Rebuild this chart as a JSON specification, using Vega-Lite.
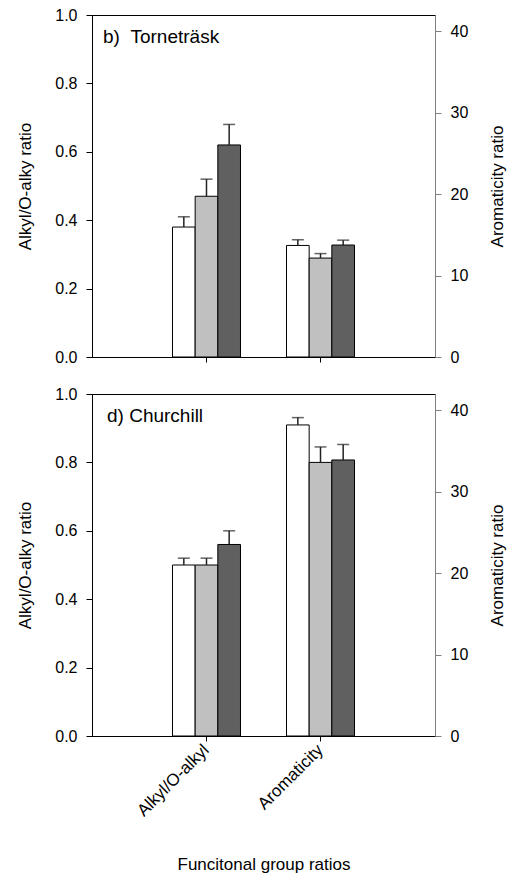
{
  "$schema": "https://vega.github.io/schema/vega-lite/v6.json",
  "autosize": {"type": "pad"},
  "padding": {"left": 16, "top": 6, "right": 5, "bottom": 5},
  "background": "white",
  "bounds": "flush",
  "spacing": 37,
  "config": {
    "font": "Liberation Sans",
    "view": {"stroke": "black", "strokeWidth": 1},
    "axis": {"grid": false, "labelColor": "black", "titleColor": "black", "titleFontWeight": "normal", "labelFont": "Liberation Sans", "titleFont": "Liberation Sans"}
  },
  "data": {
    "values": [
      {"site": "Torneträsk", "ratio": "Alkyl/O-alkyl", "trt": "A", "value": 0.38, "upper": 0.41},
      {"site": "Torneträsk", "ratio": "Alkyl/O-alkyl", "trt": "B", "value": 0.47, "upper": 0.52},
      {"site": "Torneträsk", "ratio": "Alkyl/O-alkyl", "trt": "C", "value": 0.62, "upper": 0.68},
      {"site": "Torneträsk", "ratio": "Aromaticity", "trt": "A", "value": 13.7, "upper": 14.4},
      {"site": "Torneträsk", "ratio": "Aromaticity", "trt": "B", "value": 12.15, "upper": 12.7},
      {"site": "Torneträsk", "ratio": "Aromaticity", "trt": "C", "value": 13.75, "upper": 14.35},
      {"site": "Churchill", "ratio": "Alkyl/O-alkyl", "trt": "A", "value": 0.50, "upper": 0.52},
      {"site": "Churchill", "ratio": "Alkyl/O-alkyl", "trt": "B", "value": 0.50, "upper": 0.52},
      {"site": "Churchill", "ratio": "Alkyl/O-alkyl", "trt": "C", "value": 0.56, "upper": 0.60},
      {"site": "Churchill", "ratio": "Aromaticity", "trt": "A", "value": 38.2, "upper": 39.1},
      {"site": "Churchill", "ratio": "Aromaticity", "trt": "B", "value": 33.6, "upper": 35.5},
      {"site": "Churchill", "ratio": "Aromaticity", "trt": "C", "value": 33.9, "upper": 35.8}
    ]
  },
  "vconcat": [
    {
      "width": 343, "height": 342,
      "title": {"text": "b)\u00a0\u00a0Torneträsk", "anchor": "start", "frame": "group", "orient": "top", "offset": -18, "dy": 22, "dx": 11, "fontSize": 19, "fontWeight": "normal", "font": "Liberation Sans", "color": "black"},
      "transform": [{"filter": "datum.site === 'Torneträsk'"}],
      "encoding": {
        "x": {"field": "ratio", "type": "nominal", "sort": ["Alkyl/O-alkyl", "Aromaticity"], "scale": {"paddingInner": 0.4035, "paddingOuter": 0.706},
              "axis": {"title": null, "labels": false, "tickSize": 5, "tickColor": "black", "domainColor": "black", "domain": true}},
        "xOffset": {"field": "trt", "type": "nominal", "sort": ["A", "B", "C"], "scale": {"paddingInner": 0, "paddingOuter": 0}}
      },
      "layer": [
        {
          "transform": [{"filter": "datum.ratio === 'Alkyl/O-alkyl'"}],
          "layer": [
            {"mark": {"type": "bar", "stroke": "black", "strokeWidth": 1},
             "encoding": {
               "y": {"field": "value", "type": "quantitative", "scale": {"domain": [0, 1], "nice": false}, "axis": {"orient": "left", "title": "Alkyl/O-alky ratio", "values": [0, 0.2, 0.4, 0.6, 0.8, 1.0], "format": ".1f", "tickSize": 6, "labelFontSize": 16, "labelPadding": 9, "titleFontSize": 17, "titlePadding": 20, "domainColor": "black", "tickColor": "black"}},
               "fill": {"field": "trt", "type": "nominal", "scale": {"domain": ["A", "B", "C"], "range": ["#ffffff", "#c0c0c0", "#606060"]}, "legend": null}
             }},
            {"mark": {"type": "rule", "color": "#222222", "strokeWidth": 1.5},
             "encoding": {
               "y": {"field": "value", "type": "quantitative", "scale": {"domain": [0, 1], "nice": false}, "axis": {"orient": "left", "title": "Alkyl/O-alky ratio", "values": [0, 0.2, 0.4, 0.6, 0.8, 1.0], "format": ".1f", "tickSize": 6, "labelFontSize": 16, "labelPadding": 9, "titleFontSize": 17, "titlePadding": 20, "domainColor": "black", "tickColor": "black"}},
               "y2": {"field": "upper"}
             }},
            {"mark": {"type": "tick", "color": "#222222", "size": 12, "thickness": 1.5, "orient": "horizontal"},
             "encoding": {
               "y": {"field": "upper", "type": "quantitative", "scale": {"domain": [0, 1], "nice": false}, "axis": {"orient": "left", "title": "Alkyl/O-alky ratio", "values": [0, 0.2, 0.4, 0.6, 0.8, 1.0], "format": ".1f", "tickSize": 6, "labelFontSize": 16, "labelPadding": 9, "titleFontSize": 17, "titlePadding": 20, "domainColor": "black", "tickColor": "black"}}
             }}
          ]
        },
        {
          "transform": [{"filter": "datum.ratio === 'Aromaticity'"}],
          "layer": [
            {"mark": {"type": "bar", "stroke": "black", "strokeWidth": 1},
             "encoding": {
               "y": {"field": "value", "type": "quantitative", "scale": {"domain": [0, 42], "nice": false}, "axis": {"orient": "right", "title": "Aromaticity ratio", "titleAngle": 270, "values": [0, 10, 20, 30, 40], "tickSize": 6, "labelFontSize": 16, "labelPadding": 9, "titleFontSize": 17, "titlePadding": 39, "domainColor": "#808080", "tickColor": "#808080"}},
               "fill": {"field": "trt", "type": "nominal", "scale": {"domain": ["A", "B", "C"], "range": ["#ffffff", "#c0c0c0", "#606060"]}, "legend": null}
             }},
            {"mark": {"type": "rule", "color": "#222222", "strokeWidth": 1.5},
             "encoding": {
               "y": {"field": "value", "type": "quantitative", "scale": {"domain": [0, 42], "nice": false}, "axis": {"orient": "right", "title": "Aromaticity ratio", "titleAngle": 270, "values": [0, 10, 20, 30, 40], "tickSize": 6, "labelFontSize": 16, "labelPadding": 9, "titleFontSize": 17, "titlePadding": 39, "domainColor": "#808080", "tickColor": "#808080"}},
               "y2": {"field": "upper"}
             }},
            {"mark": {"type": "tick", "color": "#222222", "size": 12, "thickness": 1.5, "orient": "horizontal"},
             "encoding": {
               "y": {"field": "upper", "type": "quantitative", "scale": {"domain": [0, 42], "nice": false}, "axis": {"orient": "right", "title": "Aromaticity ratio", "titleAngle": 270, "values": [0, 10, 20, 30, 40], "tickSize": 6, "labelFontSize": 16, "labelPadding": 9, "titleFontSize": 17, "titlePadding": 39, "domainColor": "#808080", "tickColor": "#808080"}}
             }}
          ]
        }
      ],
      "resolve": {"scale": {"y": "independent"}, "axis": {"y": "independent"}}
    },
    {
      "width": 343, "height": 342,
      "title": {"text": "d) Churchill", "anchor": "start", "frame": "group", "orient": "top", "offset": -18, "dy": 22, "dx": 15, "fontSize": 19, "fontWeight": "normal", "font": "Liberation Sans", "color": "black"},
      "transform": [{"filter": "datum.site === 'Churchill'"}],
      "encoding": {
        "x": {"field": "ratio", "type": "nominal", "sort": ["Alkyl/O-alkyl", "Aromaticity"], "scale": {"paddingInner": 0.4035, "paddingOuter": 0.706},
              "axis": {"title": "Funcitonal group ratios", "titleFontSize": 17, "titlePadding": 38, "labelAngle": -45, "labelAlign": "right", "labelBaseline": "middle", "labelFontSize": 17, "labelPadding": 6, "tickSize": 5, "tickColor": "black", "domainColor": "black"}},
        "xOffset": {"field": "trt", "type": "nominal", "sort": ["A", "B", "C"], "scale": {"paddingInner": 0, "paddingOuter": 0}}
      },
      "layer": [
        {
          "transform": [{"filter": "datum.ratio === 'Alkyl/O-alkyl'"}],
          "layer": [
            {"mark": {"type": "bar", "stroke": "black", "strokeWidth": 1},
             "encoding": {
               "y": {"field": "value", "type": "quantitative", "scale": {"domain": [0, 1], "nice": false}, "axis": {"orient": "left", "title": "Alkyl/O-alky ratio", "values": [0, 0.2, 0.4, 0.6, 0.8, 1.0], "format": ".1f", "tickSize": 6, "labelFontSize": 16, "labelPadding": 9, "titleFontSize": 17, "titlePadding": 20, "domainColor": "black", "tickColor": "black"}},
               "fill": {"field": "trt", "type": "nominal", "scale": {"domain": ["A", "B", "C"], "range": ["#ffffff", "#c0c0c0", "#606060"]}, "legend": null}
             }},
            {"mark": {"type": "rule", "color": "#222222", "strokeWidth": 1.5},
             "encoding": {
               "y": {"field": "value", "type": "quantitative", "scale": {"domain": [0, 1], "nice": false}, "axis": {"orient": "left", "title": "Alkyl/O-alky ratio", "values": [0, 0.2, 0.4, 0.6, 0.8, 1.0], "format": ".1f", "tickSize": 6, "labelFontSize": 16, "labelPadding": 9, "titleFontSize": 17, "titlePadding": 20, "domainColor": "black", "tickColor": "black"}},
               "y2": {"field": "upper"}
             }},
            {"mark": {"type": "tick", "color": "#222222", "size": 12, "thickness": 1.5, "orient": "horizontal"},
             "encoding": {
               "y": {"field": "upper", "type": "quantitative", "scale": {"domain": [0, 1], "nice": false}, "axis": {"orient": "left", "title": "Alkyl/O-alky ratio", "values": [0, 0.2, 0.4, 0.6, 0.8, 1.0], "format": ".1f", "tickSize": 6, "labelFontSize": 16, "labelPadding": 9, "titleFontSize": 17, "titlePadding": 20, "domainColor": "black", "tickColor": "black"}}
             }}
          ]
        },
        {
          "transform": [{"filter": "datum.ratio === 'Aromaticity'"}],
          "layer": [
            {"mark": {"type": "bar", "stroke": "black", "strokeWidth": 1},
             "encoding": {
               "y": {"field": "value", "type": "quantitative", "scale": {"domain": [0, 42], "nice": false}, "axis": {"orient": "right", "title": "Aromaticity ratio", "titleAngle": 270, "values": [0, 10, 20, 30, 40], "tickSize": 6, "labelFontSize": 16, "labelPadding": 9, "titleFontSize": 17, "titlePadding": 39, "domainColor": "#808080", "tickColor": "#808080"}},
               "fill": {"field": "trt", "type": "nominal", "scale": {"domain": ["A", "B", "C"], "range": ["#ffffff", "#c0c0c0", "#606060"]}, "legend": null}
             }},
            {"mark": {"type": "rule", "color": "#222222", "strokeWidth": 1.5},
             "encoding": {
               "y": {"field": "value", "type": "quantitative", "scale": {"domain": [0, 42], "nice": false}, "axis": {"orient": "right", "title": "Aromaticity ratio", "titleAngle": 270, "values": [0, 10, 20, 30, 40], "tickSize": 6, "labelFontSize": 16, "labelPadding": 9, "titleFontSize": 17, "titlePadding": 39, "domainColor": "#808080", "tickColor": "#808080"}},
               "y2": {"field": "upper"}
             }},
            {"mark": {"type": "tick", "color": "#222222", "size": 12, "thickness": 1.5, "orient": "horizontal"},
             "encoding": {
               "y": {"field": "upper", "type": "quantitative", "scale": {"domain": [0, 42], "nice": false}, "axis": {"orient": "right", "title": "Aromaticity ratio", "titleAngle": 270, "values": [0, 10, 20, 30, 40], "tickSize": 6, "labelFontSize": 16, "labelPadding": 9, "titleFontSize": 17, "titlePadding": 39, "domainColor": "#808080", "tickColor": "#808080"}}
             }}
          ]
        }
      ],
      "resolve": {"scale": {"y": "independent"}, "axis": {"y": "independent"}}
    }
  ]
}
